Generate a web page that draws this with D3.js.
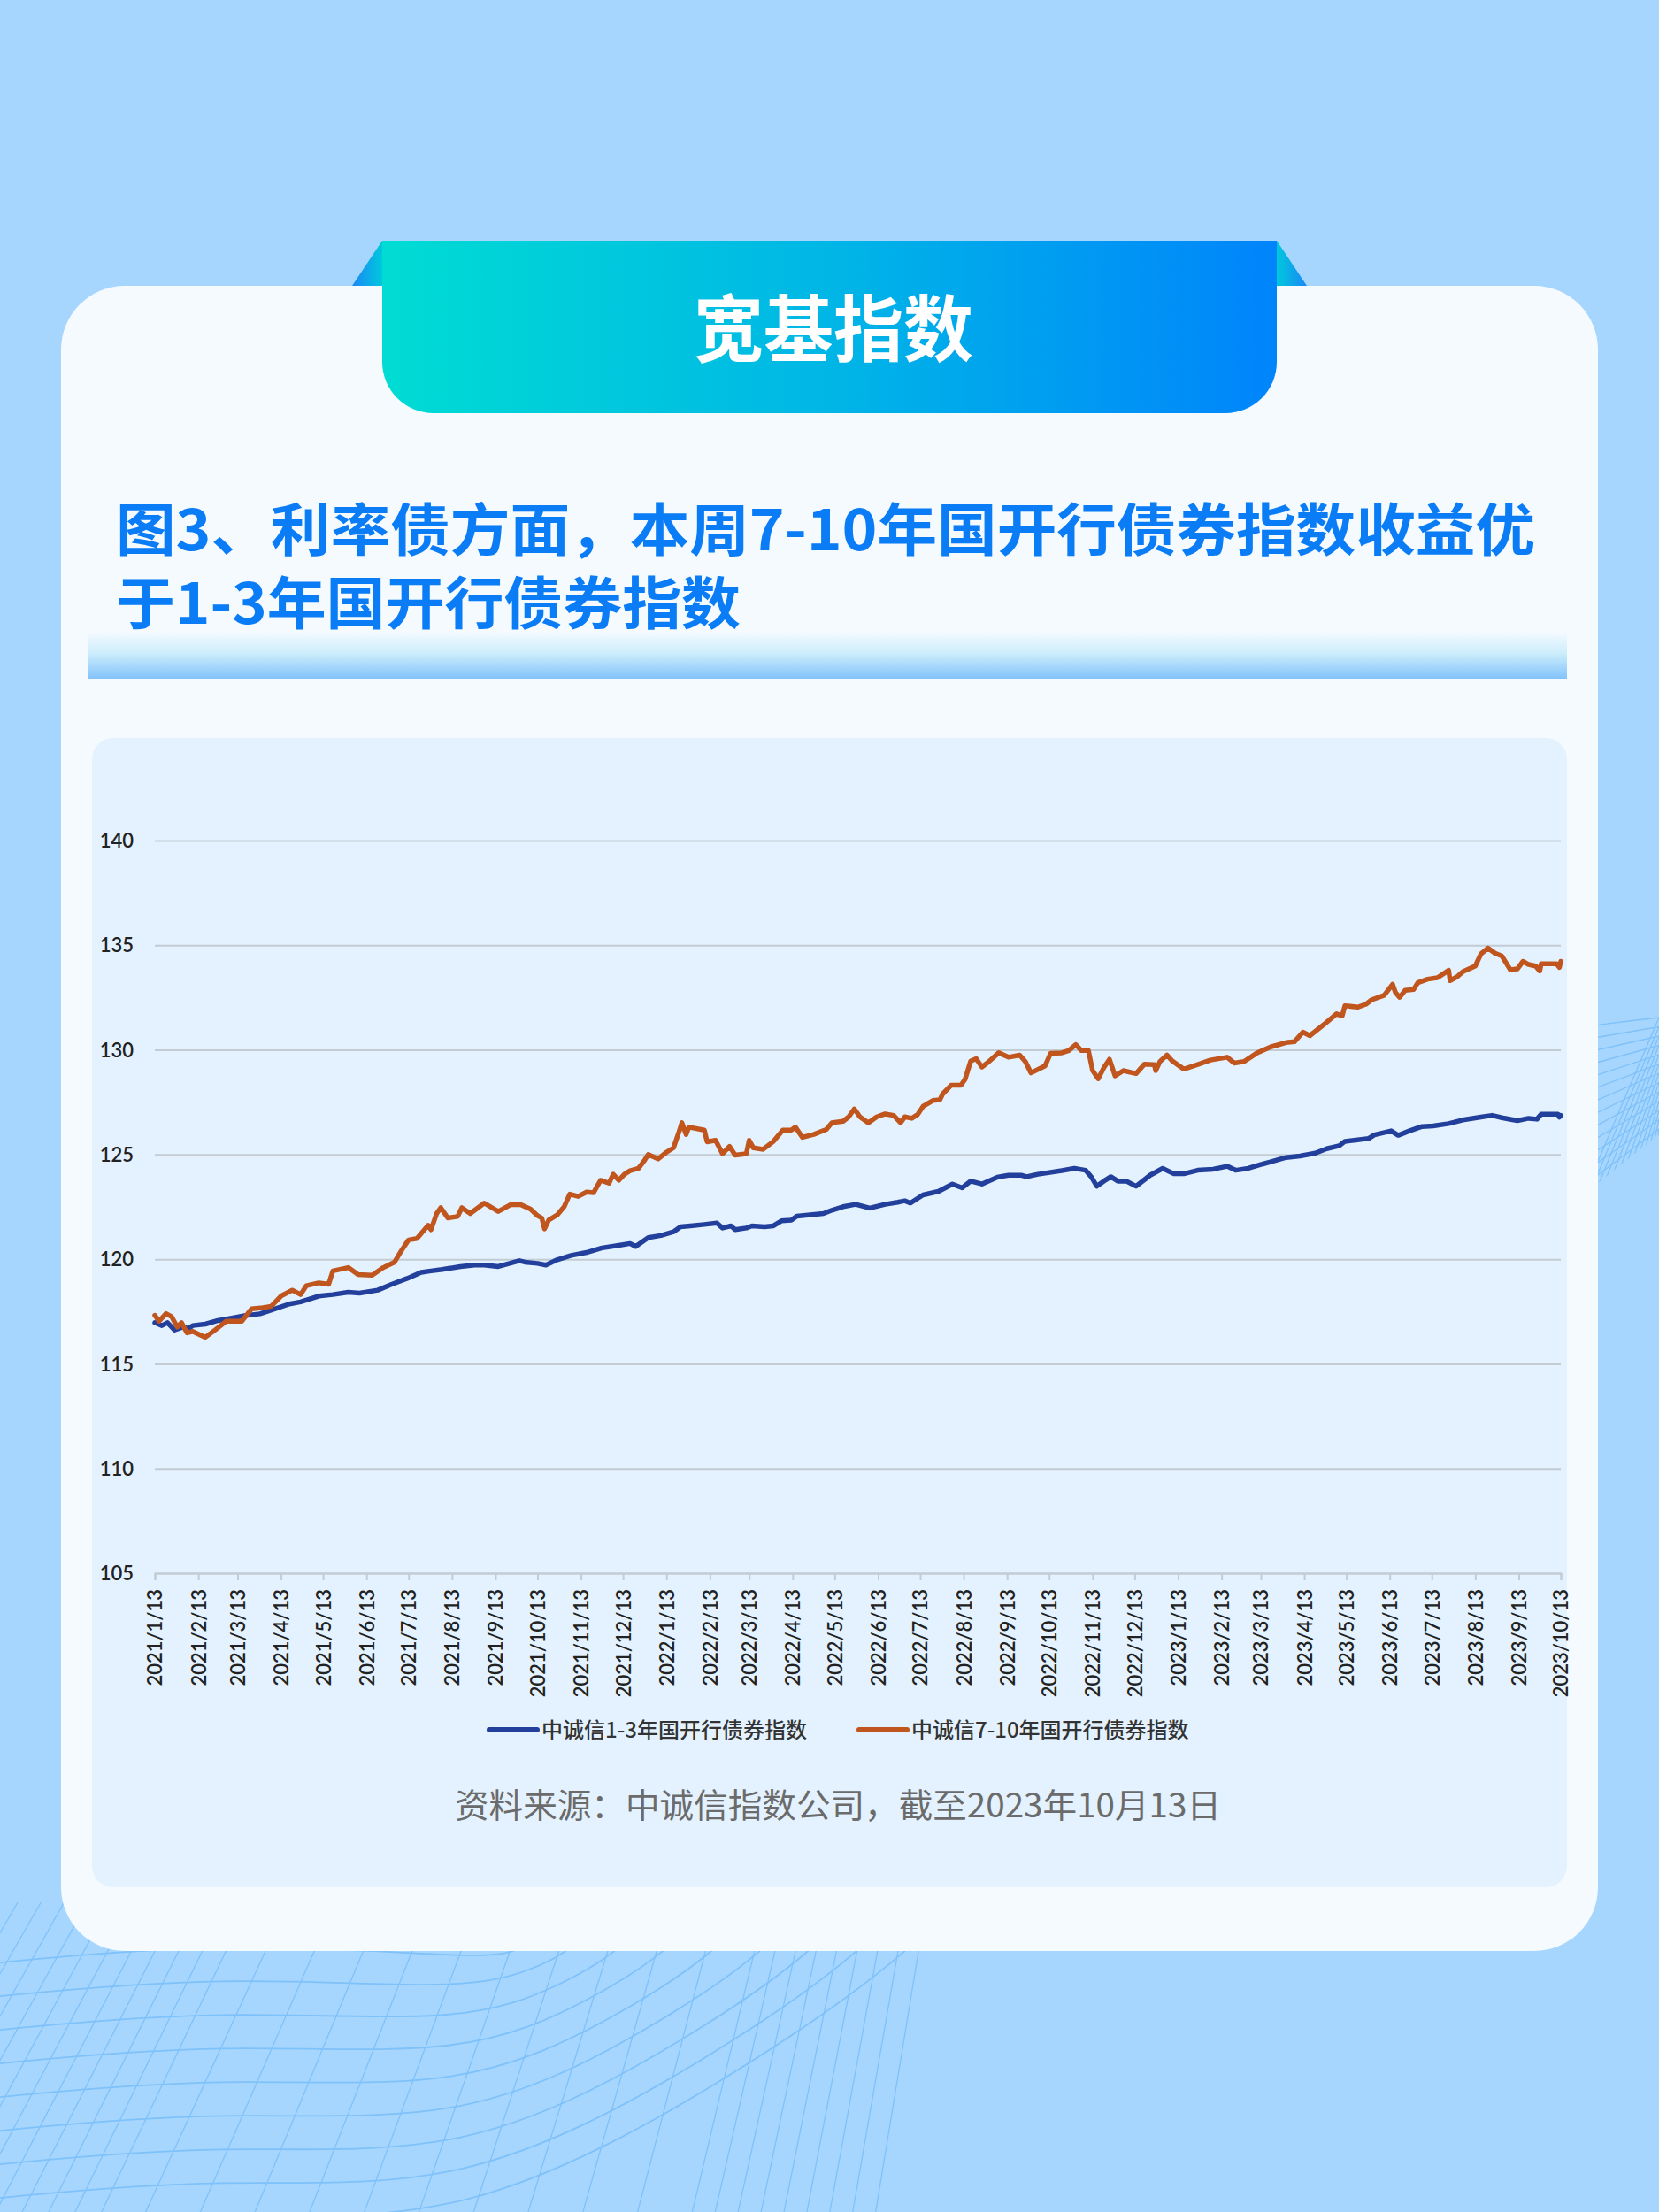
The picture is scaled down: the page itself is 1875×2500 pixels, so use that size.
<!DOCTYPE html>
<html lang="zh">
<head>
<meta charset="UTF-8">
<title>宽基指数</title>
<script src="https://d3js.org/d3.v7.min.js"></script>
<style>
  body { margin: 0; padding: 0; background: #a6d6fe; }
  svg { display: block; }
  .cjk { font-family: "Noto Sans CJK SC", "Noto Sans", sans-serif; }
  .tick text { font-family: Lato, "Open Sans", sans-serif; font-size: 22px; font-weight: 600; fill: #222222; }
</style>
</head>
<body>
<div id="chart"></div>
<script>
// ---- data ----
const tickLabels = ["2021/1/13","2021/2/13","2021/3/13","2021/4/13","2021/5/13","2021/6/13","2021/7/13",
  "2021/8/13","2021/9/13","2021/10/13","2021/11/13","2021/12/13","2022/1/13","2022/2/13","2022/3/13",
  "2022/4/13","2022/5/13","2022/6/13","2022/7/13","2022/8/13","2022/9/13","2022/10/13","2022/11/13",
  "2022/12/13","2023/1/13","2023/2/13","2023/3/13","2023/4/13","2023/5/13","2023/6/13","2023/7/13",
  "2023/8/13","2023/9/13","2023/10/13"];
const yTicks = [105, 110, 115, 120, 125, 130, 135, 140];
const seriesNames = ["中诚信1-3年国开行债券指数", "中诚信7-10年国开行债券指数"];

// 中诚信1-3年国开行债券指数
const shortDates = ["2021-01-13","2021-01-18","2021-01-22","2021-01-27","2021-02-02","2021-02-06","2021-02-09",
  "2021-02-18","2021-02-27","2021-03-08","2021-03-18","2021-03-29","2021-04-08","2021-04-19","2021-04-27",
  "2021-05-10","2021-05-20","2021-05-31","2021-06-08","2021-06-21","2021-07-01","2021-07-12","2021-07-22",
  "2021-07-29","2021-08-06","2021-08-19","2021-08-29","2021-09-05","2021-09-15","2021-09-30","2021-10-04",
  "2021-10-13","2021-10-19","2021-10-27","2021-11-06","2021-11-17","2021-11-28","2021-12-09","2021-12-18",
  "2021-12-22","2021-12-31","2022-01-09","2022-01-18","2022-01-23","2022-01-30","2022-02-09","2022-02-18",
  "2022-02-22","2022-02-28","2022-03-03","2022-03-11","2022-03-15","2022-03-24","2022-03-30","2022-04-05",
  "2022-04-12","2022-04-16","2022-04-24","2022-05-05","2022-05-11","2022-05-19","2022-05-28","2022-06-07",
  "2022-06-18","2022-06-27","2022-07-02","2022-07-06","2022-07-15","2022-07-26","2022-08-05","2022-08-12",
  "2022-08-18","2022-08-26","2022-09-06","2022-09-14","2022-09-23","2022-09-27","2022-10-05","2022-10-22",
  "2022-10-31","2022-11-08","2022-11-12","2022-11-16","2022-11-21","2022-11-26","2022-12-01","2022-12-07",
  "2022-12-14","2022-12-20","2022-12-24","2023-01-02","2023-01-10","2023-01-17","2023-01-27","2023-02-07",
  "2023-02-17","2023-02-23","2023-03-04","2023-03-14","2023-03-20","2023-03-31","2023-04-10","2023-04-21",
  "2023-04-29","2023-05-08","2023-05-12","2023-05-21","2023-05-29","2023-06-02","2023-06-14","2023-06-19",
  "2023-06-27","2023-07-06","2023-07-14","2023-07-25","2023-08-04","2023-08-17","2023-08-25","2023-09-01",
  "2023-09-12","2023-09-20","2023-09-26","2023-09-29","2023-10-11","2023-10-12","2023-10-13"];
const shortValues = [116.97,116.83,116.97,116.62,116.76,116.69,116.83,
  116.90,117.07,117.18,117.30,117.39,117.61,117.86,117.96,
  118.24,118.31,118.42,118.38,118.52,118.80,119.08,119.37,
  119.44,119.51,119.65,119.72,119.72,119.65,119.93,119.86,
  119.80,119.72,119.97,120.18,120.32,120.54,120.65,120.75,
  120.61,121.03,121.13,121.31,121.55,121.59,121.66,121.73,
  121.49,121.59,121.41,121.49,121.59,121.55,121.59,121.83,
  121.87,122.06,122.11,122.18,122.34,122.51,122.62,122.44,
  122.62,122.72,122.79,122.68,123.07,123.24,123.59,123.41,
  123.73,123.59,123.92,124.01,124.01,123.94,124.06,124.23,
  124.34,124.25,123.94,123.49,123.73,123.94,123.73,123.73,
  123.49,123.80,124.01,124.34,124.08,124.08,124.25,124.30,
  124.44,124.25,124.34,124.54,124.65,124.86,124.93,125.07,
  125.28,125.42,125.63,125.70,125.77,125.94,126.13,125.92,
  126.13,126.34,126.37,126.48,126.65,126.79,126.87,126.76,
  126.62,126.73,126.69,126.93,126.93,126.79,126.87];

// 中诚信7-10年国开行债券指数
const longDates = ["2021-01-13","2021-01-16","2021-01-21","2021-01-25","2021-01-29","2021-02-01","2021-02-05",
  "2021-02-09","2021-02-18","2021-02-25","2021-03-05","2021-03-16","2021-03-23","2021-03-31","2021-04-06",
  "2021-04-13","2021-04-21","2021-04-27","2021-05-01","2021-05-10","2021-05-17","2021-05-20","2021-05-31",
  "2021-06-07","2021-06-17","2021-06-25","2021-07-03","2021-07-08","2021-07-13","2021-07-19","2021-07-27",
  "2021-07-29","2021-08-02","2021-08-05","2021-08-10","2021-08-17","2021-08-20","2021-08-26","2021-09-05",
  "2021-09-15","2021-09-24","2021-10-01","2021-10-08","2021-10-13","2021-10-16","2021-10-18","2021-10-21",
  "2021-10-27","2021-11-01","2021-11-05","2021-11-11","2021-11-17","2021-11-22","2021-11-27","2021-12-03",
  "2021-12-06","2021-12-10","2021-12-14","2021-12-18","2021-12-24","2021-12-28","2021-12-31","2022-01-07",
  "2022-01-13","2022-01-18","2022-01-22","2022-01-24","2022-01-27","2022-01-29","2022-02-09","2022-02-11",
  "2022-02-17","2022-02-22","2022-02-27","2022-03-03","2022-03-11","2022-03-13","2022-03-16","2022-03-23",
  "2022-03-30","2022-04-06","2022-04-12","2022-04-15","2022-04-20","2022-04-28","2022-05-07","2022-05-11",
  "2022-05-19","2022-05-23","2022-05-27","2022-05-31","2022-06-06","2022-06-12","2022-06-18","2022-06-24",
  "2022-06-29","2022-07-02","2022-07-07","2022-07-11","2022-07-15","2022-07-22","2022-07-27","2022-07-29",
  "2022-08-04","2022-08-11","2022-08-14","2022-08-18","2022-08-22","2022-08-26","2022-08-31","2022-09-07",
  "2022-09-14","2022-09-22","2022-09-26","2022-09-30","2022-10-10","2022-10-14","2022-10-22","2022-10-27",
  "2022-11-01","2022-11-05","2022-11-10","2022-11-13","2022-11-17","2022-11-21","2022-11-25","2022-11-29",
  "2022-12-05","2022-12-14","2022-12-20","2022-12-27","2022-12-28","2022-12-31","2023-01-05","2023-01-09",
  "2023-01-17","2023-01-27","2023-02-05","2023-02-17","2023-02-22","2023-03-01","2023-03-10","2023-03-20",
  "2023-03-31","2023-04-06","2023-04-12","2023-04-17","2023-04-28","2023-05-06","2023-05-10","2023-05-12",
  "2023-05-21","2023-05-27","2023-05-31","2023-06-09","2023-06-15","2023-06-17","2023-06-20","2023-06-24",
  "2023-06-30","2023-07-03","2023-07-10","2023-07-17","2023-07-25","2023-07-26","2023-07-31","2023-08-04",
  "2023-08-13","2023-08-17","2023-08-22","2023-08-27","2023-09-01","2023-09-07","2023-09-12","2023-09-16",
  "2023-09-20","2023-09-25","2023-09-28","2023-09-29","2023-10-06","2023-10-10","2023-10-12","2023-10-13"];
const longValues = [117.32,117.04,117.40,117.25,116.76,116.97,116.48,
  116.55,116.27,116.62,117.04,117.04,117.63,117.68,117.75,
  118.24,118.52,118.31,118.73,118.87,118.80,119.44,119.60,
  119.27,119.23,119.60,119.86,120.42,120.92,120.99,121.62,
  121.41,122.18,122.46,121.97,122.04,122.46,122.18,122.68,
  122.28,122.61,122.61,122.39,122.08,121.97,121.45,121.87,
  122.11,122.51,123.11,123.00,123.21,123.18,123.77,123.63,
  124.06,123.77,124.06,124.23,124.34,124.69,125.00,124.79,
  125.11,125.32,126.10,126.52,125.96,126.31,126.17,125.61,
  125.68,125.04,125.39,124.97,125.04,125.68,125.32,125.25,
  125.61,126.17,126.17,126.31,125.82,125.96,126.20,126.52,
  126.59,126.80,127.18,126.80,126.52,126.80,126.94,126.87,
  126.52,126.80,126.73,126.90,127.30,127.58,127.61,127.89,
  128.31,128.31,128.59,129.46,129.58,129.18,129.44,129.86,
  129.65,129.75,129.44,128.90,129.23,129.83,129.86,129.97,
  130.25,129.97,129.97,129.01,128.62,129.15,129.55,128.76,
  129.01,128.87,129.32,129.30,129.01,129.44,129.75,129.46,
  129.08,129.30,129.51,129.65,129.37,129.44,129.84,130.14,
  130.35,130.39,130.85,130.68,131.27,131.72,131.62,132.11,
  132.04,132.18,132.39,132.61,133.13,132.75,132.51,132.85,
  132.89,133.21,133.38,133.45,133.80,133.31,133.49,133.73,
  134.01,134.58,134.86,134.62,134.48,133.83,133.87,134.23,
  134.08,134.01,133.77,134.11,134.11,134.11,133.94,134.23];

const colors = ["#223f9c", "#c0561e"];

// ---- page ----
const W = 1875, H = 2500;
const svg = d3.select("#chart").append("svg")
    .attr("width", W)
    .attr("height", H);

const defs = svg.append("defs");
function linGrad(id, x2, y2, stops) {
    const g = defs.append("linearGradient").attr("id", id)
        .attr("x1", 0).attr("y1", 0).attr("x2", x2).attr("y2", y2);
    stops.forEach(s => g.append("stop").attr("offset", s[0]).attr("stop-color", s[1]));
}
linGrad("bannerGrad", 1, 0, [[0, "#00dcd3"], [0.5, "#00b6e6"], [1, "#0084fb"]]);
linGrad("foldL", 1, 0, [[0, "#1a88f6"], [1, "#00c8dc"]]);
linGrad("foldR", 1, 0, [[0, "#00c8dc"], [1, "#1a88f6"]]);
linGrad("stripGrad", 0, 1, [[0, "#f5faff"], [0.45, "#cdeefb"], [1, "#82c3fb"]]);

svg.append("rect").attr("width", W).attr("height", H).attr("fill", "#a6d6fe");

// background line decorations (behind the card)
const deco = svg.append("g").attr("fill", "none").attr("stroke", "#7fc1f9").attr("stroke-width", 1.3);
const vp = [1450, -300];
const fanX = d3.range(-460, 120, 30).concat(d3.range(160, 760, 62)).concat(d3.range(780, 1000, 26));
fanX.forEach(bx => {
    const t = (2510 - 2150) / (2510 - vp[1]);
    deco.append("line")
        .attr("x1", bx).attr("y1", 2510)
        .attr("x2", bx + (vp[0] - bx) * t).attr("y2", 2150);
});
const wave = d3.line().curve(d3.curveBasis);
d3.range(9).forEach(k => {
    const yD = 2212 + 38 * k, endX = 600 + 55 * k;
    deco.append("path").attr("stroke-width", 1.8).attr("d", wave([
        [-20, yD + 8], [250, yD - 18], [526, yD],
        [526 + (endX - 526) * 0.6, yD - (yD - 2206) * 0.55],
        [endX, 2200], [endX + 60, 2120]]));
});
defs.append("clipPath").attr("id", "rightClip").append("polygon")
    .attr("points", "1790,1160 1875,1148 1875,1282 1790,1350");
const rdeco = deco.append("g").attr("clip-path", "url(#rightClip)");
d3.range(13).forEach(i => {
    rdeco.append("line").attr("x1", 1790).attr("y1", 1160 + i * 15)
        .attr("x2", 1875).attr("y2", 1150 + i * 10.5);
    rdeco.append("line").attr("x1", 1790 + i * 6).attr("y1", 1350)
        .attr("x2", 1875).attr("y2", 1150 + i * 10.5);
});

// card
svg.append("rect").attr("x", 69).attr("y", 323).attr("width", 1737).attr("height", 1882)
    .attr("rx", 72).attr("fill", "#f5faff");

// title banner
svg.append("path").attr("d", "M398,323 L432,272 L432,323 Z").attr("fill", "url(#foldL)");
svg.append("path").attr("d", "M1443,272 L1477,323 L1443,323 Z").attr("fill", "url(#foldR)");
svg.append("path")
    .attr("d", "M432,272 H1443 V409 A58,58 0 0 1 1385,467 H490 A58,58 0 0 1 432,409 Z")
    .attr("fill", "url(#bannerGrad)");
svg.append("text").attr("class", "cjk")
    .attr("x", 942).attr("y", 402).attr("text-anchor", "middle")
    .attr("font-size", 82).attr("font-weight", 700).attr("fill", "#ffffff")
    .attr("textLength", 316).attr("lengthAdjust", "spacingAndGlyphs")
    .text("宽基指数");

// heading
const heading = ["图3、利率债方面，本周7-10年国开行债券指数收益优", "于1-3年国开行债券指数"];
const headLen = [1604, 706];
heading.forEach((t, i) => {
    svg.append("text").attr("class", "cjk")
        .attr("x", 131).attr("y", 622 + i * 83)
        .attr("font-size", 64).attr("font-weight", 700).attr("fill", "#0a7cf6")
        .attr("textLength", headLen[i]).attr("lengthAdjust", "spacingAndGlyphs")
        .text(t);
});
svg.append("rect").attr("x", 100).attr("y", 714).attr("width", 1671).attr("height", 53)
    .attr("fill", "url(#stripGrad)");

// chart panel
svg.append("rect").attr("x", 104).attr("y", 834).attr("width", 1667).attr("height", 1299)
    .attr("rx", 24).attr("fill", "#e3f2fe");

// ---- chart ----
const parseTick = d3.timeParse("%Y/%m/%d");
const parseDay = d3.timeParse("%Y-%m-%d");
const tickDates = tickLabels.map(parseTick);

const x = d3.scaleTime()
    .domain([tickDates[0], tickDates[tickDates.length - 1]])
    .range([175, 1764]);
const y = d3.scaleLinear().domain([105, 140]).range([1778, 950]);

const grid = svg.append("g")
    .attr("transform", "translate(175,0)")
    .call(d3.axisLeft(y).tickValues(yTicks).tickSize(-1589).tickPadding(24));
grid.select(".domain").remove();
grid.selectAll(".tick line").attr("stroke", "#c3cbd3").attr("stroke-width", 2);
grid.selectAll(".tick text").attr("dy", "0.35em");

const xAxis = svg.append("g")
    .attr("transform", "translate(0,1778)")
    .call(d3.axisBottom(x).tickValues(tickDates).tickSize(8)
        .tickFormat((d, i) => tickLabels[i]));
xAxis.select(".domain").attr("stroke", "#c3cbd3").attr("stroke-width", 2);
xAxis.selectAll(".tick line").attr("stroke", "#c3cbd3").attr("stroke-width", 2);
xAxis.selectAll(".tick text")
    .attr("transform", "rotate(-90)")
    .attr("text-anchor", "end")
    .attr("x", -18).attr("y", 0).attr("dy", "0.36em");

const series = [
    shortDates.map((d, i) => ({date: parseDay(d), v: shortValues[i]})),
    longDates.map((d, i) => ({date: parseDay(d), v: longValues[i]}))
];
const line = d3.line().x(d => x(d.date)).y(d => y(d.v));
series.forEach((s, i) => {
    svg.append("path").datum(s)
        .attr("d", line)
        .attr("fill", "none")
        .attr("stroke", colors[i])
        .attr("stroke-width", 5.5)
        .attr("stroke-linejoin", "round")
        .attr("stroke-linecap", "round");
});

// legend
const legendX = [553, 971];
seriesNames.forEach((name, i) => {
    svg.append("line")
        .attr("x1", legendX[i]).attr("x2", legendX[i] + 54)
        .attr("y1", 1955).attr("y2", 1955)
        .attr("stroke", colors[i]).attr("stroke-width", 6).attr("stroke-linecap", "round");
    svg.append("text").attr("class", "cjk")
        .attr("x", legendX[i] + 59).attr("y", 1964)
        .attr("font-size", 24).attr("font-weight", 500).attr("fill", "#333333")
        .text(name);
});

// source
svg.append("text").attr("class", "cjk")
    .attr("x", 947).attr("y", 2054).attr("text-anchor", "middle")
    .attr("font-size", 38).attr("fill", "#6b6b6b")
    .attr("textLength", 866).attr("lengthAdjust", "spacingAndGlyphs")
    .text("资料来源：中诚信指数公司，截至2023年10月13日");
</script>
</body>
</html>
